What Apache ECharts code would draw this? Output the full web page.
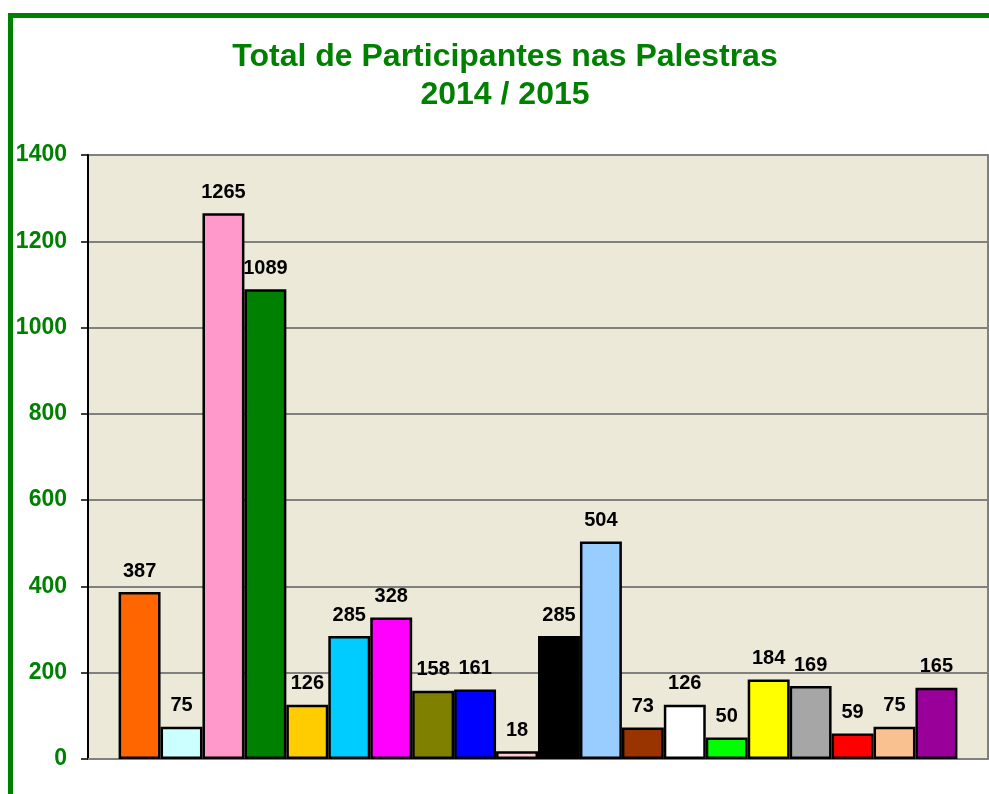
<!DOCTYPE html>
<html>
<head>
<meta charset="utf-8">
<title>Total de Participantes nas Palestras</title>
<script src="https://cdn.jsdelivr.net/npm/echarts@6/dist/echarts.min.js"></script>
<style>
  html, body { margin: 0; padding: 0; background: #fff; }
  #chart { width: 989px; height: 794px; }
</style>
</head>
<body>
<div id="chart"></div>
<script>
// valores de cada palestra (na ordem das barras)
const values = [387, 75, 1265, 1089, 126, 285, 328, 158, 161, 18, 285, 504, 73, 126, 50, 184, 169, 59, 75, 165]
const colors = ['#FF6600', '#CCFFFF', '#FF99CC', '#008000', '#FFCC00', '#00CCFF', '#FF00FF', '#808000', '#0000FF', '#FFCCCC',
  '#000000', '#99CCFF', '#993300', '#FFFFFF', '#00FF00', '#FFFF00', '#A6A6A6', '#FF0000', '#F9C090', '#990099']
const yTicks = { min: 0, max: 1400, interval: 200 }

const FONT = 'Arial, "Liberation Sans", sans-serif'
const GREEN = '#008000'

const chart = echarts.init(document.getElementById('chart'))

// uma série por barra, como no gráfico original
const series = values.map((v, i) => ({
  type: 'bar',
  name: 'S' + (i + 1),
  data: [v],
  barGap: '0%',
  barCategoryGap: '6.8%',
  itemStyle: { color: colors[i], borderColor: '#000', borderWidth: 2.5 },
  label: {
    show: true,
    position: 'top',
    distance: 11,
    color: '#000',
    fontFamily: FONT,
    fontWeight: 'bold',
    fontSize: 20
  }
}))

chart.setOption({
  animation: false,
  backgroundColor: '#fff',
  title: {
    text: 'Total de Participantes nas Palestras\n2014 / 2015',
    left: 500,
    top: 33,
    textAlign: 'center',
    textStyle: {
      color: GREEN,
      fontFamily: FONT,
      fontWeight: 'bold',
      fontSize: 32,
      lineHeight: 38
    }
  },
  grid: {
    left: 88,
    right: 1,
    top: 155,
    bottom: 35,
    show: true,
    backgroundColor: '#ECE9D8',
    borderColor: '#808080',
    borderWidth: 2
  },
  xAxis: {
    type: 'category',
    data: [''],
    axisLine: { lineStyle: { color: '#808080', width: 2 } },
    axisTick: { show: false },
    axisLabel: { show: false }
  },
  yAxis: {
    type: 'value',
    min: yTicks.min,
    max: yTicks.max,
    interval: yTicks.interval,
    axisLine: { show: true, lineStyle: { color: '#000', width: 2 } },
    axisTick: { show: true, length: 7, lineStyle: { color: '#000', width: 1.5 } },
    axisLabel: {
      color: GREEN,
      fontFamily: FONT,
      fontWeight: 'bold',
      fontSize: 23,
      margin: 21,
      formatter: v => String(v)
    },
    splitLine: { lineStyle: { color: '#808080', width: 2 } }
  },
  graphic: [
    // moldura verde (esquerda e topo)
    { type: 'rect', left: 8, top: 13, shape: { width: 5, height: 800 }, style: { fill: GREEN } },
    { type: 'rect', left: 8, top: 13, shape: { width: 990, height: 5 }, style: { fill: GREEN } }
  ],
  series: series
})
</script>
</body>
</html>
